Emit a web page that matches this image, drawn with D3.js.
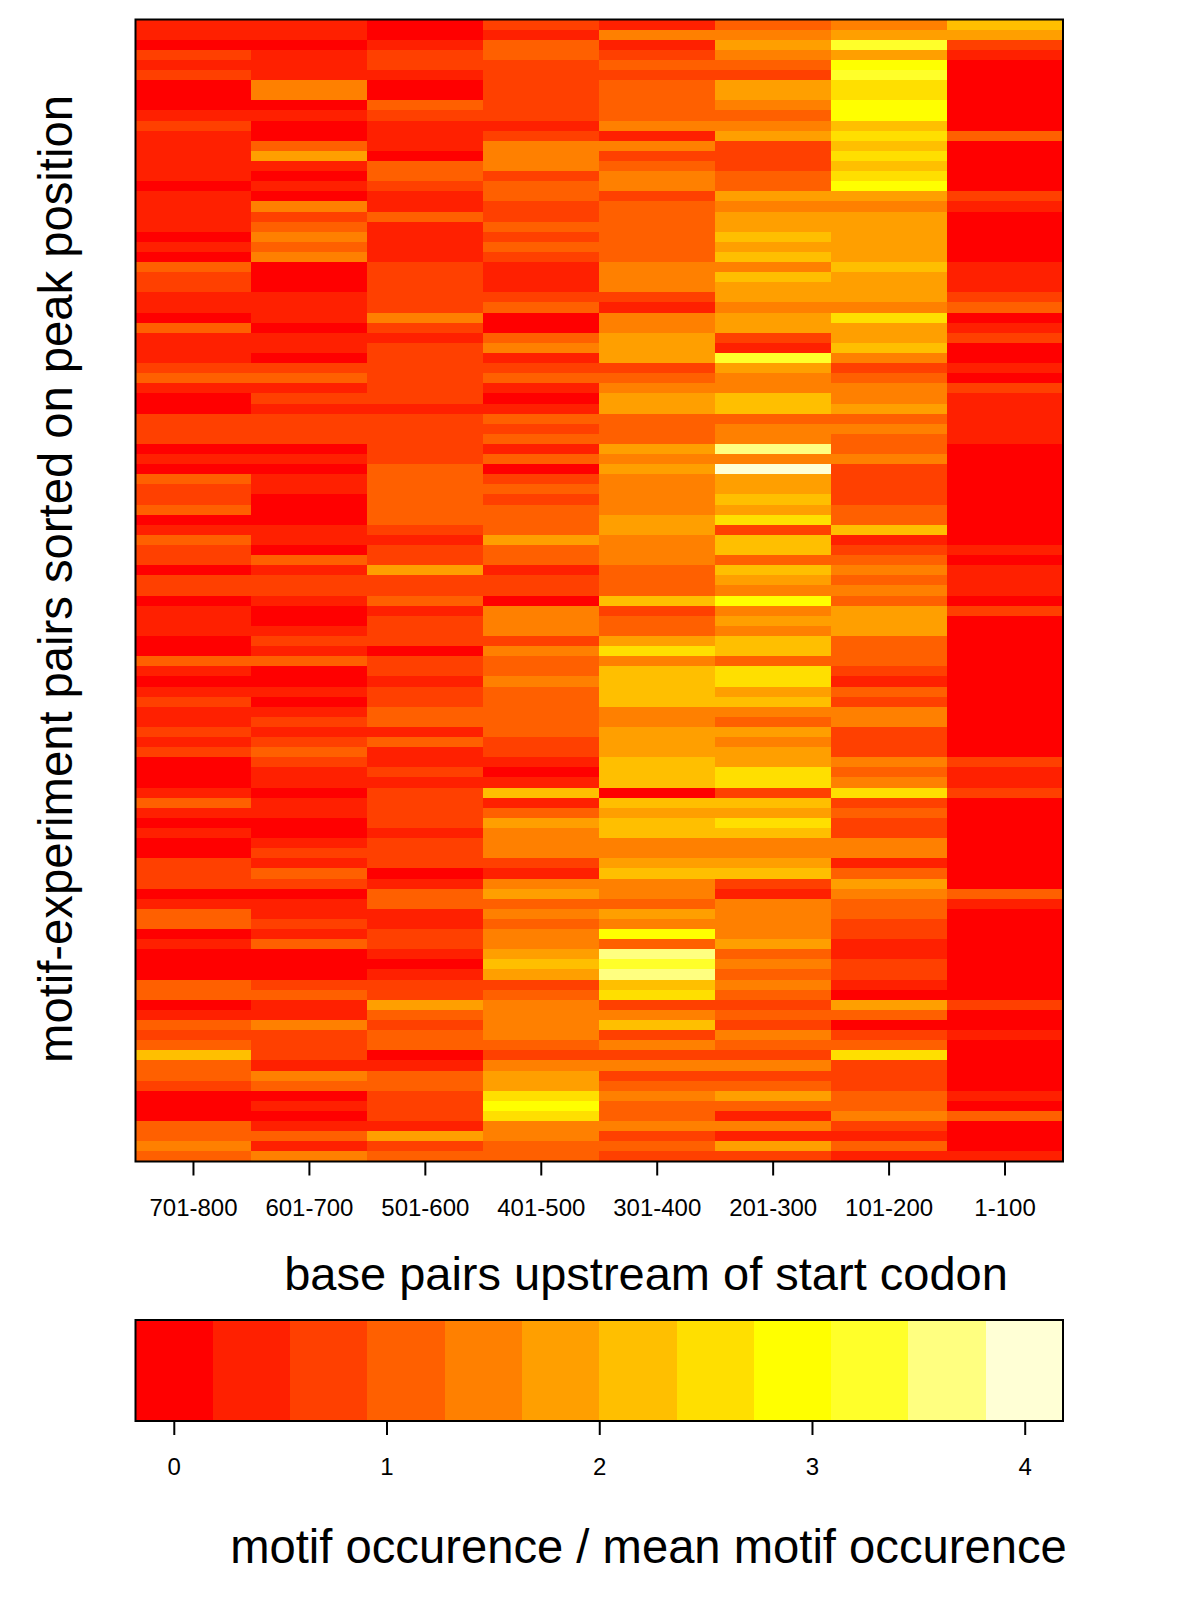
<!DOCTYPE html>
<html>
<head>
<meta charset="utf-8">
<script src="https://cdn.jsdelivr.net/npm/d3@7"></script>
<style>
    html, body { margin: 0; padding: 0; background: #fff; }
    svg { display: block; }
    text { font-family: "Liberation Sans", Arial, sans-serif; fill: #000; }
</style>
</head>
<body>
<svg id="chart"></svg>
<script>
const bins = ['701-800', '601-700', '501-600', '401-500', '301-400', '201-300', '101-200', '1-100'];
const legendTicks = [0, 1, 2, 3, 4];
const heatColors = ['#FF0000', '#FF2000', '#FF4000', '#FF6000', '#FF8000', '#FF9F00',
    '#FFBF00', '#FFDF00', '#FFFF00', '#FFFF2A', '#FFFF80', '#FFFFD5'];

// one list per column, top row first
const bp701 = [.4,.4,0,.7,.4,.7,0,0,0,.4,.7,.4,.4,.4,.4,.4,0,.4,
    .4,.4,.4,0,.4,0,1.1,.7,.7,.4,.4,0,1.1,.4,.4,.4,.7,1.1,.4,0,
    0,.7,.7,.7,0,.4,0,1.1,.7,.7,1.1,0,.4,1.1,.7,.7,0,.7,.7,0,
    .4,.4,.4,0,0,1.1,.4,0,.4,.7,.4,.4,.7,.4,.7,0,0,0,.4,
    1.1,.4,0,.4,0,0,.7,.7,.7,0,.4,1.1,1.1,0,.4,0,0,0,1.1,1.1,
    0,.4,1.1,.7,1.1,2.2,1.1,1.1,.7,0,0,0,1.1,1.1,1.5,1.1];
const bp601 = [.4,.4,0,.4,.4,.4,1.5,1.5,0,.4,0,0,1.1,1.8,.4,0,.4,0,
    1.5,.7,1.1,1.5,1.1,1.5,0,0,0,.4,.4,.4,0,.4,.4,0,.7,1.1,.4,.7,
    .4,.7,.7,.7,0,.4,0,.4,.4,0,0,0,.4,.4,0,1.1,.4,.7,.7,.4,
    0,0,.4,.7,.4,1.1,0,0,.4,0,.4,.7,.4,.7,1.1,.7,.4,.4,0,
    .4,.4,0,0,.4,.7,.4,1.1,.7,0,.4,.4,.7,.4,1.1,0,0,0,.7,1.1,
    .4,.4,1.5,.7,.7,.7,.4,1.5,1.1,0,.4,0,.4,1.1,.4,1.5];
const bp501 = [0,0,.4,.7,.7,.4,0,0,1.1,.7,.4,.4,.4,0,1.1,1.1,.7,.4,
    .4,1.1,.4,.4,.4,.4,.7,.7,.7,.7,.7,1.5,.7,.4,.7,.7,.7,.7,.7,.7,
    .4,.7,.7,.7,.7,.7,1.1,1.1,1.1,1.1,1.1,1.1,.7,.4,.7,.7,1.8,.7,.7,1.1,
    .4,.7,.7,.7,0,.7,.7,.4,.7,.7,1.1,1.1,.4,1.1,.4,.4,.7,.4,.7,
    .7,.7,.7,.4,.7,.7,.7,0,.4,1.1,1.1,.4,.4,.7,.7,.4,0,.4,.7,.7,
    1.8,1.1,.7,1.1,1.1,0,.4,1.1,1.1,.7,.7,.7,.4,1.8,.7,1.1];
const bp401 = [.7,.4,1.1,1.1,.7,.7,.7,.7,.7,.7,.4,.7,1.5,1.5,1.5,.7,1.1,1.1,
    .7,.7,1.1,.7,1.1,.7,.4,.4,.4,.7,1.1,0,0,1.1,1.5,.4,.7,1.1,.4,0,
    .4,1.1,.7,1.1,.4,1.1,0,.7,1.1,.7,1.1,1.1,1.1,1.8,1.1,1.1,.4,.7,.7,0,
    1.5,1.5,1.5,.7,1.5,1.1,1.1,1.5,1.1,1.1,1.1,1.1,1.1,.7,.7,.4,0,.4,2.2,
    .4,1.1,1.8,1.5,1.5,1.5,.7,.4,1.5,1.8,1.1,1.5,1.1,1.5,1.5,1.8,2.2,1.8,.7,1.1,
    1.5,1.5,1.5,1.5,1.1,.7,1.5,1.8,1.8,2.5,2.9,2.5,1.5,1.5,1.1,1.1];
const bp301 = [.4,1.5,.4,.7,1.1,.7,1.1,1.1,1.1,1.1,1.5,.4,1.5,.7,1.1,1.5,1.5,.7,
    1.1,1.1,1.1,1.1,1.1,1.1,1.5,1.5,1.5,.7,.4,1.5,1.5,1.8,1.8,1.8,.7,1.1,1.5,1.8,
    1.8,1.1,1.1,1.1,1.8,1.5,1.8,1.5,1.5,1.5,1.5,1.8,1.8,1.5,1.5,1.5,1.1,1.1,1.1,2.2,
    .7,1.1,1.1,1.8,2.5,1.5,2.2,2.2,2.2,2.2,1.5,1.5,1.8,1.8,1.8,2.2,2.2,2.2,0,
    2.2,1.8,2.2,2.2,1.5,1.5,1.8,2.2,1.5,1.5,1.1,1.8,1.5,2.9,1.1,3.6,3.3,3.6,2.2,2.5,
    .7,1.5,2.2,.7,1.5,.7,1.5,.7,1.1,1.5,1.1,1.1,1.5,.7,1.1,.7];
const bp201 = [1.1,1.5,1.8,1.5,1.1,.7,1.8,1.8,1.5,1.1,1.5,1.8,.7,.7,.7,1.1,1.1,1.8,
    1.5,1.8,1.8,2.2,1.8,2.2,1.5,2.2,1.8,1.8,1.5,1.8,1.8,.7,.4,3.3,1.8,1.5,1.5,2.2,
    2.2,1.1,1.5,1.5,3.6,1.5,4,1.8,1.8,2.2,1.8,2.5,.7,2.2,2.2,1.1,2.2,1.8,1.5,2.9,
    1.5,1.8,1.5,2.2,2.2,1.1,2.5,2.5,1.8,2.2,1.5,1.1,1.8,1.5,1.8,1.8,2.5,2.5,.7,
    2.2,1.8,2.5,2.2,1.5,1.5,1.8,2.2,.7,.4,1.5,1.5,1.5,1.5,1.8,1.1,1.5,1.1,1.5,1.1,
    .7,1.1,.7,1.5,1.1,.7,1.5,.7,1.1,1.8,1.1,.4,1.5,.4,1.8,.7];
const bp101 = [1.5,1.8,3.3,1.8,2.9,3.3,2.5,2.5,2.9,2.9,2.2,2.5,2.2,2.5,2.2,2.5,2.9,1.8,
    1.5,1.8,1.8,1.8,1.8,1.8,2.2,1.8,1.8,1.8,1.5,2.5,1.8,1.8,2.2,1.5,.7,1.1,1.5,1.5,
    1.8,1.1,1.5,1.1,1.1,1.5,.7,.7,.7,.7,1.1,1.1,2.2,.4,.7,1.1,1.5,1.1,1.5,1.1,
    1.8,1.8,1.8,1.1,1.1,1.1,.7,.4,1.1,.7,1.5,1.5,.7,.7,.7,1.5,1.1,1.5,2.5,
    .7,1.1,.7,.7,1.5,1.5,.4,1.1,1.8,1.5,1.1,1.1,.7,.7,.4,.4,.7,.7,.4,0,
    1.8,1.1,0,.7,1.1,2.5,.7,.7,.7,1.1,1.1,1.5,.7,.4,1.1,.4];
const bp1 = [2.2,1.8,.7,.4,0,0,0,0,0,0,0,1.1,0,0,0,0,0,.7,
    .4,0,0,0,0,0,.4,.4,.4,.7,1.1,0,.4,.7,0,0,.4,0,.7,.4,
    .4,.4,.4,.4,0,0,0,0,0,0,0,0,0,0,.4,0,.4,.4,.4,0,
    .7,0,0,0,0,0,0,0,0,0,0,0,0,0,0,.7,.4,.4,.7,
    0,0,0,0,0,0,0,0,0,1.1,.4,0,0,0,0,0,0,0,0,0,
    .7,0,0,.4,0,0,0,0,0,.4,0,1.1,0,0,0,.4];
const columns = [bp701, bp601, bp501, bp401, bp301, bp201, bp101, bp1];

const width = 1200,
    height = 1603,
    plot = { left: 135.5, right: 1063, top: 19.5, bottom: 1161.5 },
    legend = { top: 1320, bottom: 1421 },
    zlim = [-0.18, 4.18];

const svg = d3.select('#chart')
    .attr('width', width)
    .attr('height', height);

const color = d3.scaleQuantize()
    .domain(zlim)
    .range(heatColors);

const x = d3.scaleBand()
    .domain(bins)
    .range([plot.left, plot.right]);

const y = d3.scaleBand()
    .domain(d3.range(bp701.length))
    .range([plot.top, plot.bottom]);

// heat map
svg.append('g')
    .attr('shape-rendering', 'crispEdges')
    .selectAll('g')
    .data(columns)
    .enter().append('g')
    .selectAll('rect')
    .data((d, i) => d.map((v, row) => ({ bin: bins[i], row, v })))
    .enter().append('rect')
    .attr('x', d => x(d.bin))
    .attr('y', d => y(d.row))
    .attr('width', x.bandwidth())
    .attr('height', y.bandwidth())
    .style('fill', d => color(d.v));

svg.append('rect')
    .attr('x', plot.left)
    .attr('y', plot.top)
    .attr('width', plot.right - plot.left)
    .attr('height', plot.bottom - plot.top)
    .style('fill', 'none')
    .style('stroke', '#000')
    .style('stroke-width', 2);

const xAxis = svg.append('g')
    .attr('transform', `translate(0,${plot.bottom})`)
    .call(d3.axisBottom(x).tickSize(14).tickPadding(23));
xAxis.select('.domain').remove();
xAxis.selectAll('line').style('stroke-width', 2);
xAxis.selectAll('text').style('font-size', '24px').style('font-family', '"Liberation Sans"');

// colour key
const legendX = d3.scaleLinear()
    .domain(zlim)
    .range([plot.left, plot.right]);

svg.append('g')
    .attr('shape-rendering', 'crispEdges')
    .selectAll('rect')
    .data(heatColors)
    .enter().append('rect')
    .attr('x', d => legendX(color.invertExtent(d)[0]))
    .attr('y', legend.top)
    .attr('width', d => legendX(color.invertExtent(d)[1]) - legendX(color.invertExtent(d)[0]))
    .attr('height', legend.bottom - legend.top)
    .style('fill', d => d);

svg.append('rect')
    .attr('x', plot.left)
    .attr('y', legend.top)
    .attr('width', plot.right - plot.left)
    .attr('height', legend.bottom - legend.top)
    .style('fill', 'none')
    .style('stroke', '#000')
    .style('stroke-width', 2);

const legendAxis = svg.append('g')
    .attr('transform', `translate(0,${legend.bottom})`)
    .call(d3.axisBottom(legendX).tickValues(legendTicks).tickFormat(d3.format('d')).tickSize(14).tickPadding(23));
legendAxis.select('.domain').remove();
legendAxis.selectAll('line').style('stroke-width', 2);
legendAxis.selectAll('text').style('font-size', '24px').style('font-family', '"Liberation Sans"');

// titles
svg.append('text')
    .attr('x', 646)
    .attr('y', 1290)
    .attr('text-anchor', 'middle')
    .style('font-size', '47px')
    .text('base pairs upstream of start codon');

svg.append('text')
    .attr('x', 648.5)
    .attr('y', 1563)
    .attr('text-anchor', 'middle')
    .style('font-size', '47.2px')
    .text('motif occurence / mean motif occurence');

svg.append('text')
    .attr('transform', 'translate(72,579)rotate(-90)')
    .attr('text-anchor', 'middle')
    .style('font-size', '47.2px')
    .text('motif-experiment pairs sorted on peak position');
</script>
</body>
</html>
